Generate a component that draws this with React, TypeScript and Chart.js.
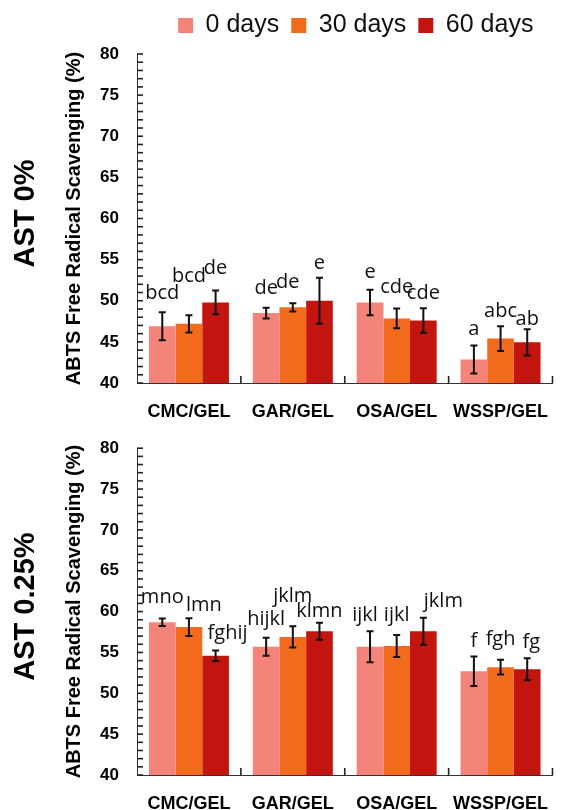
import { useEffect, useRef } from 'react';
import { Chart, registerables } from 'chart.js';
Chart.register(...registerables);

const categories = ['CMC/GEL', 'GAR/GEL', 'OSA/GEL', 'WSSP/GEL'];
const seriesNames = ['0 days', '30 days', '60 days'];
const seriesColors = ['#F4837A', '#F26B1D', '#C2150F'];
const yTickValues = [40, 45, 50, 55, 60, 65, 70, 75, 80];

// AST 0%
const ast0Day0 = [46.9, 48.5, 49.8, 42.85];
const ast0Day30 = [47.2, 49.2, 47.85, 45.4];
const ast0Day60 = [49.8, 50.0, 47.6, 44.95];
const ast0Err0 = [1.7, 0.65, 1.55, 1.7];
const ast0Err30 = [1.05, 0.5, 1.2, 1.5];
const ast0Err60 = [1.45, 2.8, 1.5, 1.6];
const ast0Letters0 = ['bcd', 'de', 'e', 'a'];
const ast0Letters30 = ['bcd', 'de', 'cde', 'abc'];
const ast0Letters60 = ['de', 'e', 'cde', 'ab'];
const ast0LetterAt0 = [50.9, 51.5, 53.4, 46.5];
const ast0LetterAt30 = [53.0, 52.2, 51.6, 48.7];
const ast0LetterAt60 = [53.9, 54.5, 50.9, 47.8];

// AST 0.25%
const ast25Day0 = [58.7, 55.7, 55.7, 52.7];
const ast25Day30 = [58.1, 56.9, 55.8, 53.2];
const ast25Day60 = [54.6, 57.6, 57.6, 52.95];
const ast25Err0 = [0.45, 1.1, 1.9, 1.8];
const ast25Err30 = [1.1, 1.3, 1.35, 0.9];
const ast25Err60 = [0.65, 1.05, 1.65, 1.35];
const ast25Letters0 = ['mno', 'hijkl', 'ijkl', 'f'];
const ast25Letters30 = ['lmn', 'jklm', 'ijkl', 'fgh'];
const ast25Letters60 = ['fghij', 'klmn', 'jklm', 'fg'];
const ast25LetterAt0 = [61.8, 59.0, 59.5, 56.4];
const ast25LetterAt30 = [60.8, 61.9, 59.5, 56.6];
const ast25LetterAt60 = [57.4, 60.0, 61.2, 56.2];

// layout-only nudges of letter labels (px)
const ast0LetterShift = [[0, 0, 0, 0], [0, -5, 0, 0], [0, 0, 0, 0]];
const ast25LetterShift = [[0, 0, -5, 0], [15, 0, 0, 0], [12, 0, 20, 4]];

const ARIAL = '"Liberation Sans", Arial, sans-serif';

type Panel = {
  side: string;
  values: number[][];
  errors: number[][];
  letters: string[][];
  letterAt: number[][];
  shift: number[][];
};

const panel0: Panel = {
  side: 'AST 0%',
  values: [ast0Day0, ast0Day30, ast0Day60],
  errors: [ast0Err0, ast0Err30, ast0Err60],
  letters: [ast0Letters0, ast0Letters30, ast0Letters60],
  letterAt: [ast0LetterAt0, ast0LetterAt30, ast0LetterAt60],
  shift: ast0LetterShift,
};
const panel25: Panel = {
  side: 'AST 0.25%',
  values: [ast25Day0, ast25Day30, ast25Day60],
  errors: [ast25Err0, ast25Err30, ast25Err60],
  letters: [ast25Letters0, ast25Letters30, ast25Letters60],
  letterAt: [ast25LetterAt0, ast25LetterAt30, ast25LetterAt60],
  shift: ast25LetterShift,
};

function makeConfig(p: Panel, showLegend: boolean, topPad: number, xHeight: number): any {
  const annot = {
    id: 'annot',
    afterLayout(chart: any) {
      if (showLegend && chart.legend) {
        chart.legend.left += 11;
        chart.legend.right += 11;
        chart.legend.top -= 6;
        chart.legend.bottom -= 6;
      }
    },
    afterDraw(chart: any) {
      const ctx = chart.ctx;
      const xs = chart.scales.x;
      const ys = chart.scales.y;
      const area = chart.chartArea;
      ctx.save();
      // inward y ticks
      ctx.strokeStyle = '#222';
      ctx.lineWidth = 1.6;
      for (let v = 40; v <= 80; v++) {
        const y = ys.getPixelForValue(v);
        ctx.beginPath();
        ctx.moveTo(area.left, y);
        ctx.lineTo(area.left + 6, y);
        ctx.stroke();
      }
      // category separator ticks
      for (let i = 0; i < categories.length; i++) {
        const x = xs.getPixelForValue(i + 0.5);
        ctx.beginPath();
        ctx.moveTo(x, area.bottom);
        ctx.lineTo(x, area.bottom - 7);
        ctx.stroke();
      }
      // error bars
      ctx.strokeStyle = '#111';
      ctx.lineWidth = 2;
      p.values.forEach((vals, di) => {
        const meta = chart.getDatasetMeta(di);
        meta.data.forEach((bar: any, i: number) => {
          const x = bar.x;
          const yt = ys.getPixelForValue(vals[i] + p.errors[di][i]);
          const yb = ys.getPixelForValue(vals[i] - p.errors[di][i]);
          ctx.beginPath();
          ctx.moveTo(x, yt);
          ctx.lineTo(x, yb);
          ctx.moveTo(x - 3.5, yt);
          ctx.lineTo(x + 3.5, yt);
          ctx.moveTo(x - 3.5, yb);
          ctx.lineTo(x + 3.5, yb);
          ctx.stroke();
        });
      });
      // letters
      ctx.fillStyle = '#111';
      ctx.font = '20px "Open Sans", sans-serif';
      ctx.textAlign = 'center';
      ctx.textBaseline = 'middle';
      p.letters.forEach((ls, di) => {
        const meta = chart.getDatasetMeta(di);
        meta.data.forEach((bar: any, i: number) => {
          ctx.fillText(ls[i], bar.x + p.shift[di][i], ys.getPixelForValue(p.letterAt[di][i]));
        });
      });
      // side title
      ctx.font = 'bold 29px ' + ARIAL;
      ctx.fillStyle = '#000';
      ctx.translate(26, (area.top + area.bottom) / 2 - 5);
      ctx.rotate(-Math.PI / 2);
      ctx.fillText(p.side, 0, 0);
      ctx.restore();
    },
  };

  return {
    type: 'bar',
    data: {
      labels: categories,
      datasets: p.values.map((v, i) => ({
        label: seriesNames[i],
        data: v,
        backgroundColor: seriesColors[i],
        borderWidth: 0,
        categoryPercentage: 0.77,
        barPercentage: 1,
      })),
    },
    options: {
      responsive: false,
      animation: false,
      layout: { padding: { top: topPad, right: 1, bottom: 0, left: 0 } },
      plugins: {
        legend: {
          display: showLegend,
          position: 'top',
          fullSize: false,
          labels: {
            boxWidth: 15,
            boxHeight: 15,
            padding: 12,
            color: '#111',
            font: { size: 25, family: ARIAL },
          },
        },
        tooltip: { enabled: false },
      },
      scales: {
        x: {
          grid: { display: false, drawTicks: false },
          border: { display: true, color: '#333', width: 1 },
          ticks: { color: '#000', padding: 18, font: { size: 18, weight: 'bold', family: ARIAL } },
          afterFit: (s: any) => {
            s.height = xHeight;
          },
        },
        y: {
          min: 40,
          max: 80,
          afterBuildTicks: (s: any) => {
            s.ticks = yTickValues.map((v) => ({ value: v }));
          },
          grid: { display: false, drawTicks: false },
          border: { display: true, color: '#333', width: 1 },
          ticks: { color: '#000', padding: 18, font: { size: 17, weight: 'bold', family: ARIAL } },
          title: {
            display: true,
            text: 'ABTS Free Radical Scavenging (%)',
            color: '#000',
            font: { size: 20, weight: 'bold', family: ARIAL },
            padding: { top: 62, bottom: 0 },
          },
          afterFit: (s: any) => {
            s.width = 137;
          },
        },
      },
    },
    plugins: [annot],
  };
}

export default function App() {
  const ref1 = useRef<HTMLCanvasElement>(null);
  const ref2 = useRef<HTMLCanvasElement>(null);
  useEffect(() => {
    const c1 = new Chart(ref1.current as HTMLCanvasElement, makeConfig(panel0, true, 7, 37));
    const c2 = new Chart(ref2.current as HTMLCanvasElement, makeConfig(panel25, false, 22, 35));
    return () => {
      c1.destroy();
      c2.destroy();
    };
  }, []);
  return (
    <div style={{ position: 'absolute', left: 0, top: 0, width: 568, height: 810, background: '#fff' }}>
      <canvas ref={ref1} width={568} height={420} style={{ position: 'absolute', left: 0, top: 0 }} />
      <canvas ref={ref2} width={568} height={390} style={{ position: 'absolute', left: 0, top: 420 }} />
    </div>
  );
}
